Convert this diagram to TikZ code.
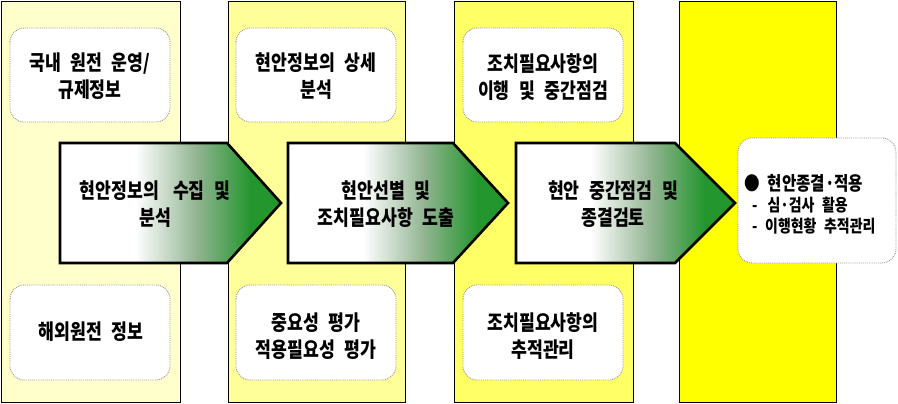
\documentclass[tikz,border=0pt]{standalone}
\usepackage{fontspec}
\setmainfont{Noto Sans CJK KR}[FakeStretch=0.82, WordSpace=2.4]
\definecolor{colA}{RGB}{255,255,204}
\definecolor{colB}{RGB}{255,255,153}
\definecolor{colC}{RGB}{255,255,102}
\definecolor{colD}{RGB}{255,255,0}
\definecolor{ag}{RGB}{36,150,46}
\definecolor{am}{RGB}{145,180,145}
\definecolor{dotgray}{RGB}{150,150,150}
\pgfdeclarehorizontalshading{arrowshade}{100bp}{color(0bp)=(white); color(25bp)=(white); color(42bp)=(white); color(56bp)=(am); color(68bp)=(ag); color(100bp)=(ag)}
\tikzset{
  colbox/.style={draw=black, line width=0.8pt},
  infobox/.style={draw=dotgray, densely dotted, line width=0.9pt, fill=white, rounded corners=14pt},
  arrowbox/.style={draw=black, line width=2.6pt, line join=miter, shade, shading=arrowshade},
  boxtext/.style={font=\fontsize{21}{27}\selectfont\bfseries, align=center, inner sep=0pt},
  arrowtext/.style={font=\fontsize{21}{27}\selectfont\bfseries, align=center, inner sep=0pt},
}
\begin{document}
\begin{tikzpicture}[x=1pt,y=-1pt]
\useasboundingbox (0,0) rectangle (898,404);
% columns
\draw[colbox, fill=colA] (1,1) rectangle (180,402);
\draw[colbox, fill=colB] (228,1) rectangle (405,402);
\draw[colbox, fill=colC] (454,1) rectangle (633,402);
\draw[colbox, fill=colD] (679,1) rectangle (836,402);
% info boxes
\draw[infobox] (10,28) rectangle (170,122);
\draw[infobox] (10,285) rectangle (170,380);
\draw[infobox] (236,28) rectangle (396,122);
\draw[infobox] (236,285) rectangle (396,380);
\draw[infobox] (463,28) rectangle (623,122);
\draw[infobox] (463,285) rectangle (623,380);
\draw[infobox] (738,138) rectangle (896,263);
\node[boxtext] (t1a) at (90,76) {국내 원전 운영/\\규제정보};
\node[boxtext] (t1b) at (91,332) {해외원전 정보};
\node[boxtext] (t2a) at (316,76) {현안정보의 상세\\분석};
\node[boxtext] (t2b) at (316,336) {중요성 평가\\적용필요성 평가};
\node[boxtext] (t3a) at (543,77) {조치필요사항의\\이행 및 중간점검};
\node[boxtext] (t3b) at (543,336) {조치필요사항의\\추적관리};
% arrows
\path[arrowbox] (60,143) -- (227,143) -- (281,203) -- (227,263) -- (60,263) -- cycle;
\path[arrowbox] (288,143) -- (453,143) -- (508,203) -- (453,263) -- (288,263) -- cycle;
\path[arrowbox] (516,143) -- (675,143) -- (735,203) -- (675,263) -- (516,263) -- cycle;
\node[arrowtext] (s1) at (155,204) {현안정보의\hspace{14pt}수집 및\\분석};
\node[arrowtext] (s2) at (386,204) {현안선별 및\\조치필요사항 도출};
\node[arrowtext] (s3) at (613,204) {현안 중간점검 및\\종결검토};
% final box text
\node[anchor=west, inner sep=0pt, font=\fontsize{19}{22}\selectfont\bfseries] (f1) at (744,183) {●\hspace{8pt}현안종결·적용};
\node[anchor=west, inner sep=0pt, font=\fontsize{17}{20}\selectfont\bfseries] (f2) at (752,205) {-\hspace{10pt}심·검사 활용};
\node[anchor=west, inner sep=0pt, font=\fontsize{17}{20}\selectfont\bfseries] (f3) at (752,226) {- 이행현황 추적관리};
\end{tikzpicture}
\end{document}
